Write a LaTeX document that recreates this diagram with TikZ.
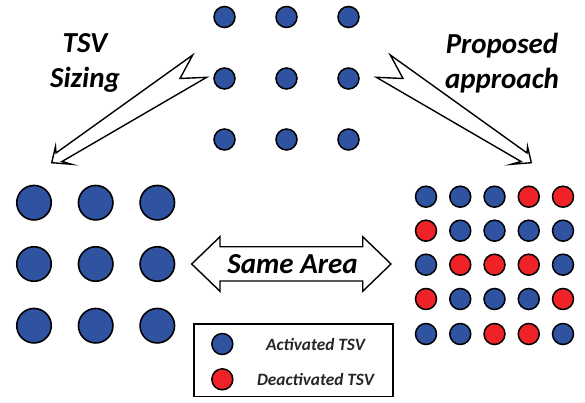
\documentclass[tikz,border=0pt]{standalone}
\usepackage{fontspec}
\setmainfont{Carlito}
\definecolor{tsvblue}{HTML}{2F53A1}
\definecolor{tsvred}{HTML}{EE2227}
\tikzset{
  tsv/.style={circle, draw=black, line width=1.5pt, inner sep=0pt, minimum size=21pt},
  act/.style={tsv, fill=tsvblue},
  deact/.style={tsv, fill=tsvred},
  bigtsv/.style={circle, draw=black, line width=1.6pt, inner sep=0pt, minimum size=34.5pt, fill=tsvblue},
  lbl/.style={font=\bfseries\itshape, inner sep=0pt, align=center},
  blockarrow/.style={draw=black, fill=white, line width=1.4pt, line join=miter},
}
\begin{document}
\begin{tikzpicture}[x=1pt,y=-1pt]
\useasboundingbox (0,0) rectangle (585,403);
% top grid
\foreach \c/\x in {1/224.5,2/286.5,3/348.5}
  \foreach \r/\y in {1/17,2/78.5,3/139.5}
    \node[act] (t\r\c) at (\x,\y) {};
% left grid
\foreach \c/\x in {1/34,2/95.7,3/157.3}
  \foreach \r/\y in {1/202.7,2/264,3/325.7}
    \node[bigtsv] (l\r\c) at (\x,\y) {};
% right grid
\foreach \r/\y/\pat in {1/196.7/{a,a,a,d,d},2/230.7/{d,a,a,a,a},3/264.7/{a,d,d,d,a},4/299/{d,a,a,a,d},5/334/{a,a,d,d,a}}{
  \foreach \k [count=\c] in \pat {
    \pgfmathsetmacro{\xx}{426+34.25*(\c-1)}
    \if a\k\def\sty{act}\else\def\sty{deact}\fi
    \node[\sty] (r\r\c) at (\xx,\y) {};
  }
}
% left block arrow (TSV sizing)
\draw[blockarrow] (192.7,55) -- (56,153) -- (55.5,146.5) -- (51.7,162.7) -- (71.7,164.3) -- (62,161.5) -- (206.7,77.3) -- (180,78.5) -- cycle;
% right block arrow (proposed approach)
\draw[blockarrow] (390.3,55) -- (527,153) -- (527.5,146.5) -- (531.3,162.7) -- (511.3,164.3) -- (521,161.5) -- (376.3,77.3) -- (403,78.5) -- cycle;
% labels
\node[lbl, font=\fontsize{29}{35}\selectfont\bfseries\itshape] (ts) at (85,63) {TSV\\Sizing};
\node[lbl, font=\fontsize{29}{35}\selectfont\bfseries\itshape] (pa) at (502,63) {Proposed\\approach};
% double arrow
\draw[blockarrow] (191.7,264) -- (220,236.7) -- (220,246.7) -- (362.7,246.7) -- (362.7,236.7) -- (391,264) -- (362.7,291.3) -- (362.7,281) -- (220,281) -- (220,291.3) -- cycle;
\node[lbl, font=\fontsize{29}{34}\selectfont\bfseries\itshape] (sa) at (292.5,264) {Same Area};
% legend
\draw[line width=1.4pt] (194,324) rectangle (393,396.5);
\node[act] (la) at (222.3,344) {};
\node[deact] (ld) at (222.3,379.3) {};
\node[lbl, font=\fontsize{17.3}{20}\selectfont\bfseries\itshape, text=black!85] (lat) at (315.5,344) {Activated TSV};
\node[lbl, font=\fontsize{17.3}{20}\selectfont\bfseries\itshape, text=black!85] (ldt) at (315.5,379.3) {Deactivated TSV};
\end{tikzpicture}
\end{document}
